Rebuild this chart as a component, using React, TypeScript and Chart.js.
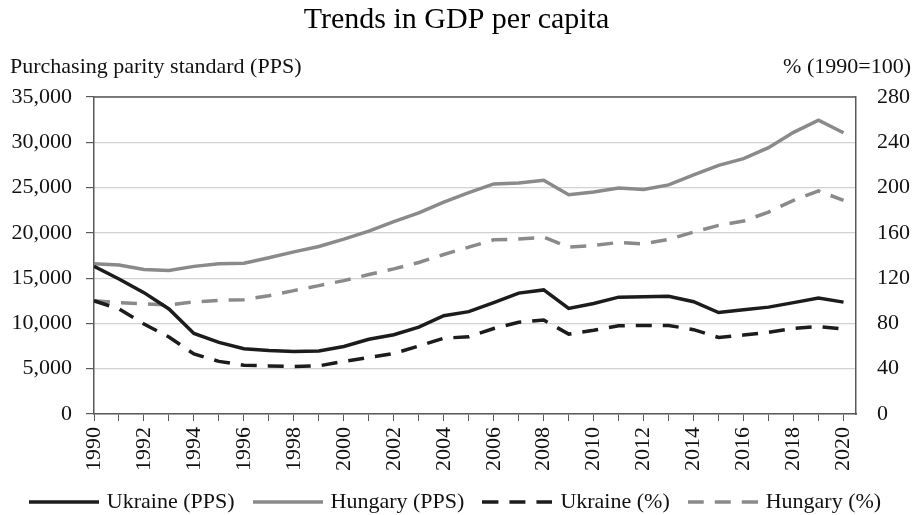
import React, { useEffect, useRef } from 'react';
import { Chart, registerables } from 'chart.js';

Chart.register(...registerables);

const years = [
  1990, 1991, 1992, 1993, 1994, 1995, 1996, 1997, 1998, 1999, 2000, 2001, 2002, 2003, 2004, 2005,
  2006, 2007, 2008, 2009, 2010, 2011, 2012, 2013, 2014, 2015, 2016, 2017, 2018, 2019, 2020,
];

const ukrainePPS = [
  16300, 14900, 13400, 11600, 8900, 7900, 7200, 7000, 6900, 6950, 7450, 8250, 8750, 9600, 10850, 11300,
  12300, 13350, 13700, 11650, 12200, 12900, 12950, 13000, 12400, 11200, 11500, 11800, 12300, 12800, 12350,
];

const hungaryPPS = [
  16600, 16450, 15950, 15850, 16300, 16600, 16650, 17250, 17900, 18500, 19300, 20200, 21250, 22200, 23400, 24450,
  25400, 25500, 25800, 24200, 24500, 24950, 24800, 25300, 26400, 27450, 28200, 29400, 31100, 32450, 31050,
];

const ukrainePct = [
  100, 92.8, 79.5, 68, 53, 46.5, 43, 42.5, 42, 42.5, 46.5, 50, 53.5, 60, 67, 68.2,
  75.5, 81, 83, 70.6, 74, 78, 78.2, 78.2, 74.5, 67.6, 69.7, 72.1, 75.6, 77.2, 75,
];

const hungaryPct = [
  100, 98.4, 97.2, 96.3, 99, 100.4, 101, 104.5, 109, 113.4, 117.8, 123.2, 128.2, 133.8, 140.9, 147.4,
  153.9, 154.5, 156.2, 147.4, 148.9, 151.5, 150.3, 154.2, 160.7, 166.6, 170.4, 178.4, 188.7, 197, 188.7,
];

const leftTicks = [0, 5000, 10000, 15000, 20000, 25000, 30000, 35000];
const rightTicks = [0, 40, 80, 120, 160, 200, 240, 280];

const titleText = 'Trends in GDP per capita';
const leftAxisTitle = 'Purchasing parity standard (PPS)';
const rightAxisTitle = '% (1990=100)';
const seriesNames = ['Ukraine (PPS)', 'Hungary (PPS)', 'Ukraine (%)', 'Hungary (%)'];

const FONT = '"Liberation Serif", "DejaVu Serif", serif';
const DARK = '#1c1c1c';
const GREY = '#8a8a8a';
const AXIS = '#595959';
const DASH = [16, 11];
const LINE_W = 3.5;

function legendLine(color: string, dash: number[]) {
  const c = document.createElement('canvas');
  c.width = 70;
  c.height = 6;
  const g = c.getContext('2d')!;
  g.strokeStyle = color;
  g.lineWidth = LINE_W;
  g.setLineDash(dash);
  g.beginPath();
  g.moveTo(0, 3);
  g.lineTo(70, 3);
  g.stroke();
  return c;
}

export default function App() {
  const ref = useRef<HTMLCanvasElement | null>(null);

  useEffect(() => {
    if (!ref.current) return;
    document.body.style.margin = '0';
    Chart.defaults.font.family = FONT;
    Chart.defaults.color = '#111';

    const pts = (vals: number[]) => years.map((y, i) => ({ x: y, y: vals[i] }));

    const extraText = {
      id: 'extraText',
      afterDraw(chart: any) {
        const { ctx, chartArea } = chart;
        ctx.save();
        ctx.strokeStyle = AXIS;
        ctx.lineWidth = 1.5;
        ctx.beginPath();
        ctx.moveTo(chartArea.left, chartArea.top);
        ctx.lineTo(chartArea.right, chartArea.top);
        ctx.stroke();
        ctx.fillStyle = '#111';
        ctx.font = `22px ${FONT}`;
        ctx.textBaseline = 'middle';
        ctx.textAlign = 'left';
        ctx.fillText(leftAxisTitle, 10, 67);
        ctx.textAlign = 'right';
        ctx.fillText(rightAxisTitle, 911, 67);
        ctx.restore();
      },
    };

    const chart = new Chart(ref.current, {
      type: 'line',
      data: {
        datasets: [
          { label: seriesNames[0], data: pts(ukrainePPS), yAxisID: 'y', borderColor: DARK, backgroundColor: DARK, borderWidth: LINE_W, pointStyle: legendLine(DARK, []) },
          { label: seriesNames[1], data: pts(hungaryPPS), yAxisID: 'y', borderColor: GREY, backgroundColor: GREY, borderWidth: LINE_W, pointStyle: legendLine(GREY, []) },
          { label: seriesNames[2], data: pts(ukrainePct), yAxisID: 'y1', borderColor: DARK, backgroundColor: DARK, borderWidth: LINE_W, borderDash: DASH, pointStyle: legendLine(DARK, DASH) },
          { label: seriesNames[3], data: pts(hungaryPct), yAxisID: 'y1', borderColor: GREY, backgroundColor: GREY, borderWidth: LINE_W, borderDash: DASH, pointStyle: legendLine(GREY, DASH) },
        ],
      },
      options: {
        responsive: false,
        animation: false,
        events: [],
        elements: { point: { radius: 0, hoverRadius: 0 }, line: { tension: 0, borderCapStyle: 'butt' } },
        layout: { padding: { left: 0, right: 0, top: 0, bottom: -8 } },
        plugins: {
          title: {
            display: true,
            text: titleText,
            color: '#000',
            font: { family: FONT, size: 30, weight: 'normal' },
            padding: { top: 2, bottom: 59 },
          },
          legend: {
            position: 'bottom',
            labels: {
              usePointStyle: true,
              pointStyleWidth: 64,
              boxHeight: 22,
              color: '#111',
              font: { family: FONT, size: 22 },
              padding: 21,
            },
          },
          tooltip: { enabled: false },
        },
        scales: {
          x: {
            type: 'linear',
            min: 1990,
            max: 2020.5,
            afterBuildTicks: (scale: any) => {
              scale.ticks = years.map((v) => ({ value: v }));
            },
            afterFit: (scale: any) => {
              scale.height = 56;
            },
            ticks: {
              autoSkip: false,
              minRotation: 90,
              maxRotation: 90,
              padding: 6,
              color: '#111',
              font: { family: FONT, size: 22 },
              callback: (v: any) => (Number(v) % 2 === 0 ? String(v) : ''),
            },
            grid: { drawOnChartArea: false, drawTicks: true, tickLength: 7, color: AXIS, lineWidth: 1 },
            border: { display: true, color: AXIS, width: 1.5 },
          },
          y: {
            position: 'left',
            min: 0,
            max: 35000,
            afterBuildTicks: (scale: any) => {
              scale.ticks = leftTicks.map((v) => ({ value: v }));
            },
            afterFit: (scale: any) => {
              scale.width = 94;
            },
            ticks: {
              padding: 14,
              color: '#111',
              font: { family: FONT, size: 22 },
              callback: (v: any) => Number(v).toLocaleString('en-US'),
            },
            grid: { color: '#d2d2d2', lineWidth: 1.2, tickColor: AXIS, tickLength: 8, drawTicks: true },
            border: { display: true, color: AXIS, width: 1.5 },
          },
          y1: {
            position: 'right',
            min: 0,
            max: 280,
            afterBuildTicks: (scale: any) => {
              scale.ticks = rightTicks.map((v) => ({ value: v }));
            },
            afterFit: (scale: any) => {
              scale.width = 57;
            },
            ticks: {
              padding: 21,
              color: '#111',
              font: { family: FONT, size: 22 },
            },
            grid: { display: false, drawTicks: false, drawOnChartArea: false },
            border: { display: true, color: AXIS, width: 1.5 },
          },
        },
      } as any,
      plugins: [extraText],
    });

    return () => chart.destroy();
  }, []);

  return (
    <div style={{ position: 'absolute', left: 0, top: 0, width: 913, height: 515, background: '#fff' }}>
      <canvas ref={ref} width={913} height={515} style={{ display: 'block' }} />
    </div>
  );
}
